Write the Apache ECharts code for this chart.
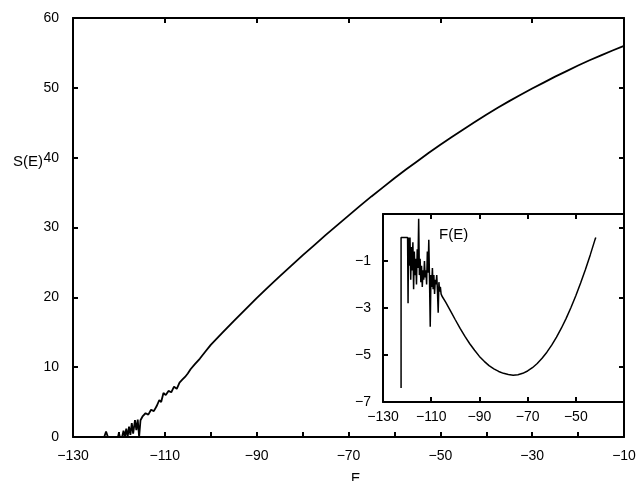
<!DOCTYPE html>
<html><head><meta charset="utf-8">
<script src="https://cdn.jsdelivr.net/npm/echarts@6/dist/echarts.min.js"></script>
<style>html,body{margin:0;padding:0;background:#fff}#c{width:641px;height:481px}</style>
</head><body><div id="c"></div>
<script>
// Main curve S(E): energy values and entropy values
var mainE = [-124,-123.2,-122.8,-122.4,-120.2,-120,-119.8,-119.3,-119,-118.7,-118.4,-118.1,-117.8,-117.5,-117.2,-116.9,-116.5,-116.2,-115.9,-115.6,-115.3,-114.8,-114.2,-113.6,-113,-112.4,-111.8,-111.2,-110.8,-110.3,-109.8,-109.2,-108.6,-108,-107.4,-106.8,-106.2,-105.6,-105,-104.4,-103.5,-102.4,-101.2,-100,-97.5,-95,-92.5,-90,-87.5,-85,-82.5,-80,-77.5,-75,-72.5,-70,-67.5,-65,-62.5,-60,-57.5,-55,-52.5,-50,-47.5,-45,-42.5,-40,-37.5,-35,-32.5,-30,-27.5,-25,-22.5,-20,-17.5,-15,-12.5,-10];
var mainS = [0,0,0.8,0,0,0.6,0,0,0.9,0,1.2,0,1.5,0.3,2.0,0.5,2.4,1.0,2.5,0,2.4,3.0,3.4,3.2,3.9,3.7,4.4,5.3,5.0,6.3,6.0,6.6,6.4,7.2,6.9,7.8,8.2,8.6,9.1,9.7,10.4,11.2,12.2,13.2,14.9,16.6,18.25,19.9,21.45,23.0,24.5,26.0,27.45,28.9,30.3,31.7,33.1,34.45,35.75,37.05,38.3,39.5,40.7,41.85,42.95,44.05,45.1,46.15,47.15,48.1,49.0,49.9,50.75,51.6,52.4,53.2,53.95,54.65,55.35,56.0];
// Inset curve F(E)
var insetE = [-122.5,-122.5,-119.8,-119.6,-119.4,-119.1,-118.8,-118.5,-118.2,-117.9,-117.6,-117.3,-117.0,-116.7,-116.4,-116.1,-115.8,-115.5,-115.2,-114.9,-114.6,-114.3,-114.0,-113.7,-113.4,-113.1,-112.8,-112.5,-112.2,-111.9,-111.6,-111.3,-111.0,-110.7,-110.4,-110.1,-109.8,-109.5,-109.2,-108.9,-108.6,-108.3,-108.0,-107.7,-107.4,-107.1,-106.8,-106.5,-106.2,-105.9,-105.5,-104,-102,-100,-98,-96,-94,-92,-90,-88,-86,-84,-82,-80,-78,-76,-74,-72,-70,-68,-66,-64,-62,-60,-58,-56,-54,-52,-50,-48,-46,-44,-42,-41.7];
var insetF = [-6.4,0,0,-2.8,0,-1.2,0,-1.8,-0.4,-1.4,-0.2,-2.2,-0.6,-1.6,-0.9,-2.0,-0.5,-1.3,0.8,-1.6,-0.9,-1.9,-1.2,-2.1,-1.4,-1.8,-1.0,-1.7,-1.4,-2.0,-0.6,-1.5,-0.1,-1.8,-3.8,-1.6,-2.1,-1.3,-2.2,-1.6,-2.4,-1.8,-2.0,-1.6,-2.3,-3.2,-1.9,-2.3,-2.1,-2.4,-2.5,-2.75,-3.12,-3.5,-3.87,-4.21,-4.52,-4.8,-5.06,-5.27,-5.45,-5.59,-5.7,-5.78,-5.83,-5.86,-5.84,-5.78,-5.68,-5.54,-5.36,-5.14,-4.88,-4.58,-4.24,-3.86,-3.44,-2.98,-2.48,-1.94,-1.36,-0.74,-0.08,0.0];

function pairs(a,b){var r=[];for(var i=0;i<a.length;i++)r.push([a[i],b[i]]);return r;}
function minus(v){return String(v).replace('-','\u2212');}
var FONT='"Liberation Sans", Arial, sans-serif';
var lab={color:'#000',fontSize:14,fontFamily:FONT};
var line={show:true,onZero:false,lineStyle:{color:'#000',width:2}};
var tick={show:true,inside:true,length:5,lineStyle:{color:'#000',width:2}};

var chart=echarts.init(document.getElementById('c'),null,{renderer:'canvas'});
chart.setOption({
  animation:false,
  backgroundColor:'#fff',
  grid:[
    {left:73,top:18,width:551,height:419,show:false},
    {left:383,top:214,width:241,height:188,show:false}
  ],
  title:[
    {text:'S(E)',left:8,top:149,textStyle:{fontSize:15,fontWeight:'normal',fontFamily:FONT,color:'#000'}},
    {text:'E',left:346,top:467,textStyle:{fontSize:14,fontWeight:'normal',fontFamily:FONT,color:'#000'}},
    {text:'F(E)',left:434,top:222,textStyle:{fontSize:15,fontWeight:'normal',fontFamily:FONT,color:'#000'}}
  ],
  xAxis:[
    {type:'value',gridIndex:0,position:'bottom',min:-130,max:-10,interval:10,axisLine:line,axisTick:tick,splitLine:{show:false},
     axisLabel:Object.assign({margin:12,formatter:function(v){return ((v+130)%20===0)?minus(v):'';}},lab)},
    {type:'value',gridIndex:0,position:'top',min:-130,max:-10,interval:20,axisLine:line,axisTick:tick,splitLine:{show:false},axisLabel:{show:false}},
    {type:'value',gridIndex:1,position:'bottom',min:-130,max:-30,interval:20,axisLine:line,axisTick:tick,splitLine:{show:false},
     axisLabel:Object.assign({margin:8,showMaxLabel:false,formatter:function(v){return minus(v);}},lab)},
    {type:'value',gridIndex:1,position:'top',min:-130,max:-30,interval:20,axisLine:line,axisTick:tick,splitLine:{show:false},axisLabel:{show:false}}
  ],
  yAxis:[
    {type:'value',gridIndex:0,position:'left',min:0,max:60,interval:10,axisLine:line,axisTick:tick,splitLine:{show:false},
     axisLabel:Object.assign({margin:14},lab)},
    {type:'value',gridIndex:0,position:'right',min:0,max:60,interval:10,axisLine:line,axisTick:tick,splitLine:{show:false},axisLabel:{show:false}},
    {type:'value',gridIndex:1,position:'left',min:-7,max:1,interval:2,axisLine:line,axisTick:tick,splitLine:{show:false},
     axisLabel:Object.assign({margin:12,showMaxLabel:false,formatter:function(v){return minus(v);}},lab)}
  ],
  series:[
    {type:'line',xAxisIndex:0,yAxisIndex:0,data:pairs(mainE,mainS),showSymbol:false,lineStyle:{color:'#000',width:1.8},z:3},
    {type:'line',xAxisIndex:2,yAxisIndex:2,data:pairs(insetE,insetF),showSymbol:false,lineStyle:{color:'#000',width:1.5},z:3}
  ]
});
</script></body></html>
